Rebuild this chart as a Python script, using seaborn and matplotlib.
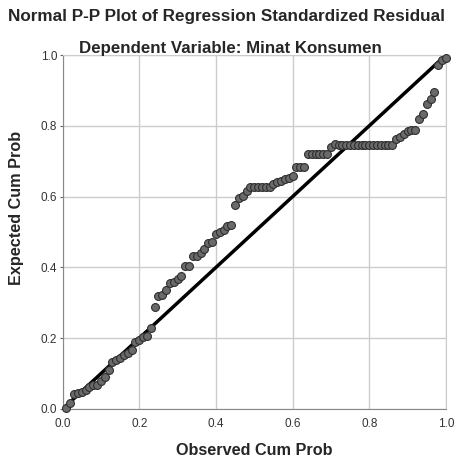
import numpy as np
import pandas as pd
import seaborn as sns
import matplotlib.pyplot as plt

# expected cum prob for each residual, sorted
expected = [0.003, 0.016, 0.042, 0.045, 0.048, 0.053, 0.062, 0.068, 0.068, 0.080,
            0.091, 0.110, 0.133, 0.138, 0.143, 0.152, 0.159, 0.166, 0.190, 0.195,
            0.203, 0.206, 0.228, 0.288, 0.318, 0.321, 0.335, 0.356, 0.360, 0.366,
            0.376, 0.403, 0.405, 0.431, 0.433, 0.440, 0.453, 0.468, 0.471, 0.494,
            0.500, 0.507, 0.518, 0.521, 0.575, 0.595, 0.603, 0.617, 0.626, 0.628,
            0.628, 0.628, 0.628, 0.628, 0.636, 0.640, 0.645, 0.650, 0.654, 0.657,
            0.684, 0.684, 0.684, 0.721, 0.721, 0.721, 0.721, 0.721, 0.721, 0.739,
            0.750, 0.746, 0.746, 0.746, 0.746, 0.746, 0.746, 0.746, 0.746, 0.746,
            0.746, 0.746, 0.746, 0.746, 0.746, 0.746, 0.762, 0.768, 0.777, 0.786,
            0.787, 0.787, 0.820, 0.833, 0.861, 0.875, 0.897, 0.973, 0.985, 0.992]
n = len(expected)
# observed cum prob = rank / n
observed = np.arange(1, n + 1) / n
df = pd.DataFrame({'observed': observed, 'expected': expected})

ref_line = [0.0, 1.0]
ticks = [0.0, 0.2, 0.4, 0.6, 0.8, 1.0]

sns.set_style('white')
plt.rcParams['font.family'] = ['Liberation Sans', 'DejaVu Sans']

fig = plt.figure(figsize=(4.54, 4.59), dpi=100)
ax = fig.add_axes([0.138, 0.109, 0.982 - 0.138, 0.880 - 0.109])

ax.grid(True, color='#cccccc', linewidth=1)
ax.set_axisbelow(True)

sns.lineplot(x=ref_line, y=ref_line, color='black', linewidth=2.5, ax=ax, zorder=2)
sns.scatterplot(data=df, x='observed', y='expected', s=32, color='#6a6a6a',
                edgecolor='#2e2e2e', linewidth=0.8, ax=ax, zorder=3, clip_on=False)

ax.set_xlim(0, 1)
ax.set_ylim(0, 1)
ax.set_xticks(ticks)
ax.set_yticks(ticks)
ax.set_xticklabels([f'{t:.1f}' for t in ticks], fontsize=8.5, color='#333333')
ax.set_yticklabels([f'{t:.1f}' for t in ticks], fontsize=8.5, color='#333333')
ax.tick_params(axis='x', bottom=False, pad=3)
ax.tick_params(axis='y', left=True, length=2, width=0.8, color='#666666', pad=2)

for side in ['top', 'right']:
    ax.spines[side].set_color('#cccccc')
for side in ['left', 'bottom']:
    ax.spines[side].set_color('#888888')

ax.set_xlabel('Observed Cum Prob', fontsize=11.7, fontweight='bold')
ax.set_ylabel('Expected Cum Prob', fontsize=11.7, fontweight='bold')
ax.xaxis.set_label_coords(0.5, -0.095)
ax.yaxis.set_label_coords(-0.102, 0.568)

fig.text(0.5, 0.965, 'Normal P-P Plot of Regression Standardized Residual',
         ha='center', va='center', fontsize=12.3, fontweight='bold')
fig.text(0.507, 0.895, 'Dependent Variable: Minat Konsumen',
         ha='center', va='center', fontsize=12.2, fontweight='bold')

fig.savefig('out.png', dpi=100)
